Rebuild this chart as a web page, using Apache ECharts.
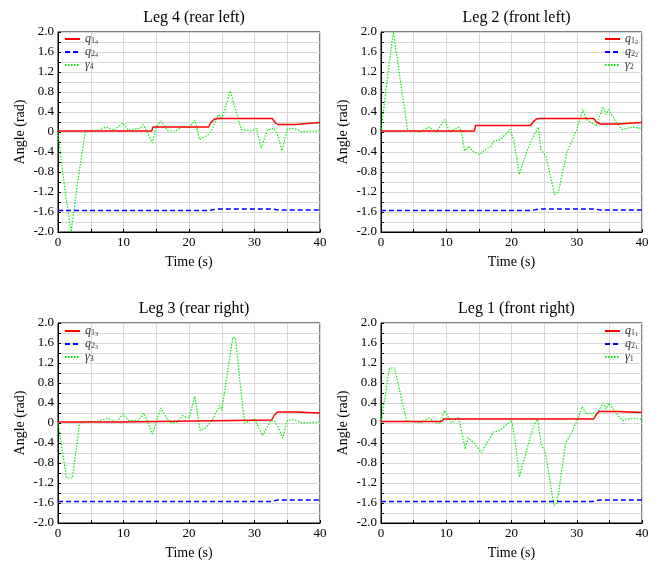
<!DOCTYPE html>
<html>
<head>
<meta charset="utf-8">
<script src="https://cdn.jsdelivr.net/npm/echarts@6/dist/echarts.min.js"></script>
<style>
  html, body { margin: 0; padding: 0; background: #fff; }
  #chart { width: 663px; height: 563px; }
</style>
</head>
<body>
<div id="chart"></div>
<script>
// panel titles, in drawing order: top-left, top-right, bottom-left, bottom-right
const titles = ["Leg 4 (rear left)", "Leg 2 (front left)", "Leg 3 (rear right)", "Leg 1 (front right)"];
const legNumbers = ["4", "2", "3", "1"];
const yTicks = [-2.0, -1.6, -1.2, -0.8, -0.4, 0, 0.4, 0.8, 1.2, 1.6, 2.0];
const xTicks = [0, 10, 20, 30, 40];

// Leg 4 (rear left)
const leg4Q1 = [[0,0.02],[14.3,0.02],[14.5,0.1],[23.0,0.1],[23.3,0.18],[23.8,0.25],[24.3,0.27],[32.7,0.27],[33.2,0.18],[33.6,0.15],[36.2,0.15],[36.4,0.19],[40,0.19]];
const leg4Q2 = [[0,-1.57],[23.0,-1.57],[24.3,-1.54],[32.7,-1.54],[33.6,-1.56],[40,-1.56]];
const leg4Gamma = [[0,0],[1.0,-1.1],[2.0,-2.0],[3.0,-1.0],[4.2,0.03],[5,0.03],[6.3,0.04],[7.4,0.1],[8.5,0.03],[9.9,0.18],[10.8,0.03],[12.0,0.07],[12.5,0.07],[13.0,0.15],[13.6,0.0],[14.4,-0.22],[15.0,0.1],[15.7,0.22],[16.8,0.02],[18.0,0.02],[19.1,0.12],[20.0,0.08],[20.9,0.24],[21.6,-0.15],[23.0,-0.05],[23.5,0.05],[24.5,0.35],[25.0,0.25],[26.3,0.82],[27.3,0.35],[28.0,0.05],[29.5,0.02],[30.3,0.07],[31.0,-0.32],[32.0,0.05],[33.0,0.07],[33.5,-0.05],[34.2,-0.38],[35.0,0.06],[36.0,0.07],[37.3,0.0],[38.5,0.02],[40,0.02]];

// Leg 2 (front left)
const leg2Q1 = [[0,0.02],[14.3,0.02],[14.5,0.13],[22.9,0.13],[23.3,0.2],[23.8,0.26],[24.3,0.27],[32.6,0.27],[33.1,0.19],[33.6,0.16],[36.2,0.16],[36.4,0.19],[40,0.19]];
const leg2Q2 = [[0,-1.57],[23.0,-1.57],[24.3,-1.54],[32.7,-1.54],[33.6,-1.56],[40,-1.56]];
const leg2Gamma = [[0,0],[1.0,1.1],[1.9,2.0],[3.0,1.0],[4.1,0.03],[5.0,0.03],[6.0,0.0],[7.4,0.1],[8.5,0.0],[9.75,0.25],[10.5,0.0],[11.9,0.1],[12.3,0.03],[12.8,-0.38],[13.5,-0.28],[14.0,-0.38],[15.1,-0.45],[16.3,-0.32],[16.8,-0.3],[17.3,-0.18],[18.3,-0.15],[19.8,0.05],[20.4,-0.2],[21.2,-0.85],[22.3,-0.4],[23.3,-0.1],[24.1,0.1],[24.5,-0.35],[25.3,-0.5],[26.6,-1.25],[27.2,-1.2],[28.5,-0.4],[29.2,-0.2],[30.0,0.05],[30.9,0.45],[31.5,0.25],[33.0,0.12],[33.3,0.1],[34.0,0.5],[34.5,0.35],[34.9,0.45],[36.0,0.2],[37.0,0.05],[38.5,0.1],[40,0.07]];

// Leg 3 (rear right)
const leg3Q1 = [[0,0.02],[9.3,0.02],[9.6,0.06],[32.6,0.06],[33.0,0.15],[33.5,0.22],[36.2,0.22],[36.4,0.2],[40,0.2]];
const leg3Q2 = [[0,-1.57],[32.6,-1.57],[33.5,-1.54],[40,-1.54]];
const leg3Gamma = [[0,0],[1.3,-1.1],[2.2,-1.1],[3.3,0.0],[4.0,0.03],[6.0,0.03],[7.5,0.1],[9.0,0.02],[9.9,0.18],[10.8,0.05],[12.3,0.05],[13.1,0.2],[14.4,-0.22],[15.7,0.3],[16.8,0.05],[17.3,0.0],[18.2,0.02],[19.0,0.15],[20.0,0.1],[20.9,0.53],[21.7,-0.15],[22.5,-0.1],[23.5,0.05],[24.7,0.35],[25.0,0.25],[26.7,1.72],[27.1,1.7],[27.8,0.8],[28.5,0.0],[30.0,0.08],[31.2,-0.25],[32.5,0.05],[33.0,0.05],[33.5,-0.05],[34.3,-0.3],[35.0,0.05],[36.0,0.07],[37.3,0.0],[40,0.02]];

// Leg 1 (front right)
const leg1Q1 = [[0,0.03],[9.3,0.03],[9.6,0.08],[32.6,0.08],[33.0,0.17],[33.4,0.23],[36.1,0.23],[36.3,0.21],[40,0.21]];
const leg1Q2 = [[0,-1.57],[32.6,-1.57],[33.4,-1.54],[40,-1.54]];
const leg1Gamma = [[0,0],[1.3,1.1],[2.1,1.1],[3.9,0.05],[5.0,0.03],[6.0,0.0],[7.3,0.1],[8.5,0.0],[9.0,0.0],[9.75,0.25],[10.8,0.0],[11.9,0.12],[12.9,-0.52],[13.3,-0.3],[14.3,-0.4],[15.4,-0.6],[16.2,-0.4],[16.5,-0.35],[17.2,-0.18],[18.2,-0.15],[20.0,0.05],[20.5,-0.3],[21.2,-1.08],[22.2,-0.6],[23.3,-0.1],[24.0,0.1],[24.5,-0.4],[25.2,-0.6],[26.5,-1.65],[27.0,-1.6],[28.3,-0.4],[29.2,-0.2],[30.2,0.1],[30.8,0.33],[31.5,0.18],[32.5,0.2],[33.0,0.15],[34.0,0.4],[34.5,0.28],[34.9,0.4],[36.0,0.2],[37.0,0.05],[38.5,0.1],[40,0.07]];

const panelData = [
  [leg4Q1, leg4Q2, leg4Gamma],
  [leg2Q1, leg2Q2, leg2Gamma],
  [leg3Q1, leg3Q2, leg3Gamma],
  [leg1Q1, leg1Q2, leg1Gamma]
];

const FONT = "'Liberation Serif', 'DejaVu Serif', serif";
const grids = [
  { left: 58, top: 32, width: 262, height: 200 },
  { left: 381, top: 32, width: 261, height: 200 },
  { left: 58, top: 323, width: 262, height: 200 },
  { left: 381, top: 323, width: 261, height: 200 }
];
const legendPos = [
  { left: 64, top: 33 },
  { left: 604, top: 33 },
  { left: 64, top: 325 },
  { left: 604, top: 325 }
];

const lineStyles = [
  { color: "#ff0000", width: 1.4, type: "solid" },
  { color: "#0000ff", width: 1.4, type: [5, 3] },
  { color: "#00ee00", width: 1.2, type: [1.5, 1.5] }
];

const rich = {
  m: { fontFamily: FONT, fontStyle: "italic", fontSize: 12, color: "#333", lineHeight: 12, verticalAlign: "middle" },
  s: { fontFamily: FONT, fontSize: 8, color: "#333", lineHeight: 6, verticalAlign: "bottom" },
  t: { fontFamily: FONT, fontSize: 6, color: "#333", lineHeight: 3, verticalAlign: "bottom" }
};

function legendLabel(name) {
  const parts = name.split("_");
  if (parts[0] === "g") return "{m|γ}{s|" + parts[1] + "}";
  return "{m|q}{s|" + parts[0].slice(1) + "}{t|" + parts[1] + "}";
}

function fmtY(v) {
  if (Math.abs(v) < 1e-9) return "0";
  return v.toFixed(1);
}

const option = {
  animation: false,
  backgroundColor: "#fff",
  title: [], grid: [], xAxis: [], yAxis: [], legend: [], series: []
};

titles.forEach((t, i) => {
  const g = grids[i];
  option.title.push({
    text: t,
    left: g.left + g.width / 2,
    top: g.top - 27,
    textAlign: "center",
    textStyle: { fontFamily: FONT, fontSize: 16, fontWeight: "normal", color: "#000" }
  });
  option.grid.push(Object.assign({ show: true, borderColor: "#000", borderWidth: 1, backgroundColor: "transparent" }, g));
  option.xAxis.push({
    type: "value", gridIndex: i, min: xTicks[0], max: xTicks[xTicks.length - 1], interval: 10,
    name: "Time (s)", nameLocation: "middle", nameGap: 23,
    nameTextStyle: { fontFamily: FONT, fontSize: 14, color: "#000" },
    axisLine: { show: true, onZero: false, lineStyle: { color: "#000", width: 1 } },
    axisTick: { show: true, inside: true, length: 3, lineStyle: { color: "#000" } },
    minorTick: { show: true, splitNumber: 2, length: 3, lineStyle: { color: "#000" } },
    axisLabel: { fontFamily: FONT, fontSize: 13, color: "#000", margin: 4, showMinLabel: true, showMaxLabel: true },
    splitLine: { show: true, lineStyle: { color: "#d8d8d8", width: 1 } },
    minorSplitLine: { show: true, lineStyle: { color: "#d8d8d8", width: 1 } }
  });
  option.yAxis.push({
    type: "value", gridIndex: i, min: yTicks[0], max: yTicks[yTicks.length - 1], interval: 0.4,
    name: "Angle (rad)", nameLocation: "middle", nameGap: 31,
    nameTextStyle: { fontFamily: FONT, fontSize: 14, color: "#000" },
    axisLine: { show: true, onZero: false, lineStyle: { color: "#000", width: 1 } },
    axisTick: { show: true, inside: true, length: 3, lineStyle: { color: "#000" } },
    minorTick: { show: true, splitNumber: 2, length: 3, lineStyle: { color: "#000" } },
    axisLabel: { fontFamily: FONT, fontSize: 13, color: "#000", margin: 4, formatter: fmtY, showMinLabel: true, showMaxLabel: true },
    splitLine: { show: true, lineStyle: { color: "#d8d8d8", width: 1 } },
    minorSplitLine: { show: true, lineStyle: { color: "#d8d8d8", width: 1 } }
  });
  const n = legNumbers[i];
  const names = ["q1_" + n, "q2_" + n, "g_" + n];
  option.legend.push(Object.assign({
    orient: "vertical", data: names, itemWidth: 15, itemHeight: 10, itemGap: 1,
    padding: 0, formatter: legendLabel, selectedMode: false,
    itemStyle: { opacity: 0 },
    textStyle: { rich: rich }
  }, legendPos[i]));
  panelData[i].forEach((d, k) => {
    option.series.push({
      type: "line", name: names[k], xAxisIndex: i, yAxisIndex: i,
      data: d, symbol: "none", smooth: false, clip: true,
      lineStyle: lineStyles[k], itemStyle: { color: lineStyles[k].color },
      z: 3 - k
    });
  });
});

const chart = echarts.init(document.getElementById("chart"), null, { renderer: "canvas" });
chart.setOption(option);
</script>
</body>
</html>
